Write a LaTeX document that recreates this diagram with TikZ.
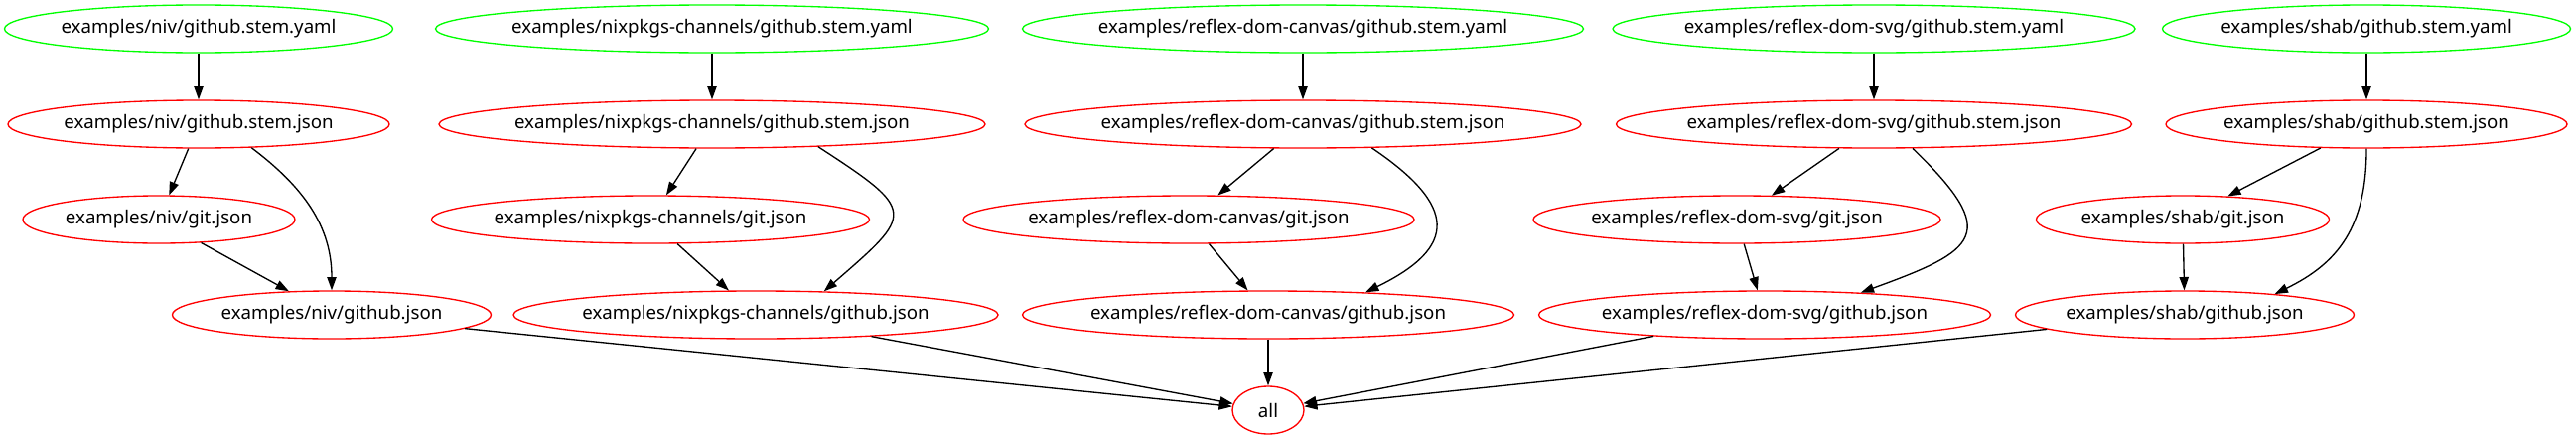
\documentclass[tikz,border=0pt]{standalone}
\usepackage{fontspec}
\setmainfont{Noto Sans}
\usepackage{tikz}
\definecolor{yamlgreen}{RGB}{0, 255, 0}
\definecolor{jsonred}{RGB}{255, 0, 0}
\usetikzlibrary{shapes.geometric, arrows.meta}

\begin{document}
\begin{tikzpicture}[x=0.75pt, y=0.75pt,
				>={Triangle[length=10pt,width=7pt]},   %Voreinstellung für Pfeilspitzen
				font=\fontsize{14}{17}\selectfont,
				datei/.style={ellipse, draw, line width=1pt, inner xsep=-40pt, inner ysep=0pt, minimum height=36pt, minimum width=#1*0.75pt},
				yamlfile/.style={datei=#1, draw=yamlgreen},
				jsonfile/.style={datei=#1, draw=jsonred},
				dep/.style={->, line width=1pt}]
				%Bildbereich
				\useasboundingbox (0,0) rectangle (2594,-443);
				% Quelldateien
				\node[yamlfile=391] (niv-yaml) at (200,-29) {examples/niv/github.stem.yaml};
				\node[yamlfile=557] (nix-yaml) at (717,-29) {examples/nixpkgs-channels/github.stem.yaml};
				\node[yamlfile=565] (canvas-yaml) at (1312,-29) {examples/reflex-dom-canvas/github.stem.yaml};
				\node[yamlfile=526] (svg-yaml) at (1887,-29) {examples/reflex-dom-svg/github.stem.yaml};
				\node[yamlfile=411] (shab-yaml) at (2383,-29) {examples/shab/github.stem.yaml};
				% erzeugte Dateien
				\node[jsonfile=384] (niv-stem) at (200,-125) {examples/niv/github.stem.json};
				\node[jsonfile=550] (nix-stem) at (717,-125) {examples/nixpkgs-channels/github.stem.json};
				\node[jsonfile=560] (canvas-stem) at (1312,-125) {examples/reflex-dom-canvas/github.stem.json};
				\node[jsonfile=519] (svg-stem) at (1887,-125) {examples/reflex-dom-svg/github.stem.json};
				\node[jsonfile=404] (shab-stem) at (2383,-125) {examples/shab/github.stem.json};
				\node[jsonfile=274] (niv-git) at (160,-221) {examples/niv/git.json};
				\node[jsonfile=441] (nix-git) at (655,-221) {examples/nixpkgs-channels/git.json};
				\node[jsonfile=454] (canvas-git) at (1197,-221) {examples/reflex-dom-canvas/git.json};
				\node[jsonfile=410] (svg-git) at (1749,-221) {examples/reflex-dom-svg/git.json};
				\node[jsonfile=295] (shab-git) at (2198,-221) {examples/shab/git.json};
				\node[jsonfile=321] (niv-github) at (334,-317) {examples/niv/github.json};
				\node[jsonfile=488] (nix-github) at (761,-317) {examples/nixpkgs-channels/github.json};
				\node[jsonfile=495] (canvas-github) at (1277,-317) {examples/reflex-dom-canvas/github.json};
				\node[jsonfile=455] (svg-github) at (1777,-317) {examples/reflex-dom-svg/github.json};
				\node[jsonfile=341] (shab-github) at (2200,-317) {examples/shab/github.json};
				\node[jsonfile=72] (all) at (1277,-413) {all};
				% Abhängigkeiten zeichnen
				\foreach \p in {niv,nix,canvas,svg,shab} {
					\draw[dep] (\p-yaml) -- (\p-stem);
					\draw[dep] (\p-stem) -- (\p-git);
					\draw[dep] (\p-git) -- (\p-github);
					\draw[dep] (\p-github) -- (all);
				}
				\draw[dep] (niv-stem.-24) .. controls +(-37:65) and +(90:65) .. (niv-github.north);
				\draw[dep] (nix-stem.-12) .. controls +(-33:120) and +(41:120) .. (nix-github.19);
				\draw[dep] (canvas-stem.-19) .. controls +(-34:104) and +(26:104) .. (canvas-github.13);
				\draw[dep] (svg-stem.-32) .. controls +(-44:125) and +(20:125) .. (svg-github.13);
				\draw[dep] (shab-stem.south) .. controls +(-90:80) and +(26:70) .. (shab-github.13);
			\end{tikzpicture}
\end{document}
